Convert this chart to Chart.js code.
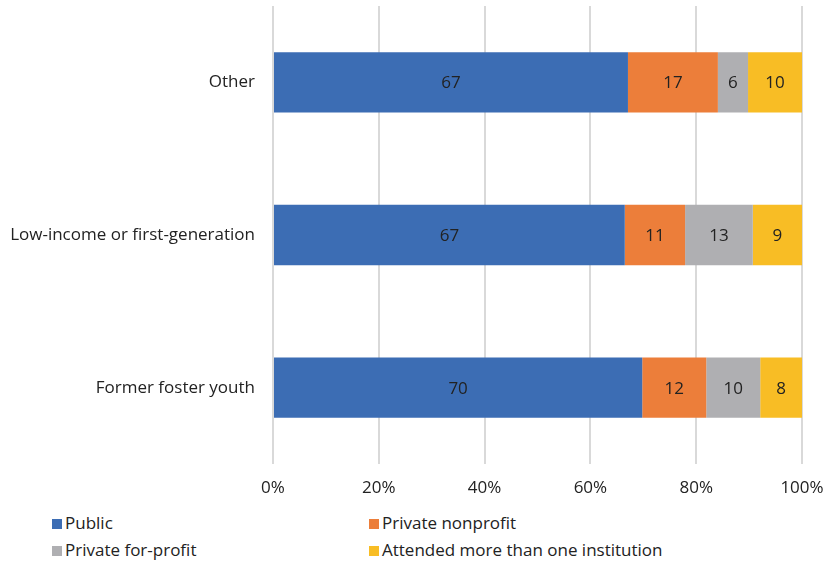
<!DOCTYPE html>
<html>
<head>
<meta charset="utf-8">
<script src="https://cdn.jsdelivr.net/npm/chart.js"></script>
<style>
  body { margin: 0; background: #fff; font-family: "Open Sans", sans-serif; }
  #wrap { position: relative; width: 828px; height: 563px; }
  #chartBox { position: absolute; left: 0; top: 0; width: 828px; height: 506px; }
  .legend { position: absolute; font-size: 17px; line-height: 20px; color: #222; white-space: nowrap; }
  .legend span.sw { display: inline-block; width: 10px; height: 10px; margin-right: 3px; vertical-align: 0px; }
</style>
</head>
<body>
<div id="wrap">
  <div id="chartBox"><canvas id="chart"></canvas></div>
  <div id="legend"></div>
</div>
<script>
// categories, top to bottom
const categories = ['Other', 'Low-income or first-generation', 'Former foster youth'];

// percent of students by institution type (labels show rounded values)
const publicVals = [67.1, 66.5, 69.8];
const nonprofitVals = [17.0, 11.4, 12.1];
const forprofitVals = [5.7, 12.8, 10.2];
const multipleVals = [10.2, 9.3, 7.9];

const seriesNames = ['Public', 'Private nonprofit', 'Private for-profit', 'Attended more than one institution'];
const seriesColors = ['#3c6db4', '#ec7e3a', '#afafb2', '#f8bd25'];

const xTicks = [0, 20, 40, 60, 80, 100];

const FONT = '"Open Sans", sans-serif';
const FSIZE = 17;

// draw value labels in the middle of every segment
const segmentLabels = {
    id: 'segmentLabels',
    afterDatasetsDraw(chart) {
        const { ctx } = chart;
        ctx.save();
        ctx.font = FSIZE + 'px ' + FONT;
        ctx.fillStyle = '#222';
        ctx.textAlign = 'center';
        ctx.textBaseline = 'middle';
        chart.data.datasets.forEach((ds, i) => {
            const meta = chart.getDatasetMeta(i);
            meta.data.forEach((bar, j) => {
                const cx = (bar.x + bar.base) / 2;
                ctx.fillText(Math.round(ds.data[j]), cx, bar.y + 1);
            });
        });
        ctx.restore();
    }
};

const allVals = [publicVals, nonprofitVals, forprofitVals, multipleVals];

new Chart(document.getElementById('chart').getContext('2d'), {
    type: 'bar',
    data: {
        labels: categories,
        datasets: allVals.map((vals, i) => ({
            label: seriesNames[i],
            data: vals,
            backgroundColor: seriesColors[i],
            borderWidth: 0,
            categoryPercentage: 1,
            barPercentage: 0.395
        }))
    },
    options: {
        indexAxis: 'y',
        responsive: true,
        maintainAspectRatio: false,
        animation: false,
        layout: { padding: { left: 0, right: 26, top: 6, bottom: 0 } },
        plugins: {
            legend: { display: false },
            tooltip: { enabled: false }
        },
        scales: {
            x: {
                stacked: true,
                min: 0,
                max: 100,
                afterBuildTicks: (axis) => { axis.ticks = xTicks.map(v => ({ value: v })); },
                afterFit: (axis) => { axis.height = 42; axis.paddingLeft = 0; axis.paddingRight = 0; },
                grid: { color: '#d9d9d9', lineWidth: 2, drawTicks: false },
                border: { display: false },
                ticks: {
                    color: '#222',
                    padding: 14,
                    font: { family: FONT, size: FSIZE },
                    callback: (v) => v + '%'
                }
            },
            y: {
                stacked: true,
                afterFit: (axis) => { axis.width = 273; axis.paddingTop = 0; axis.paddingBottom = 0; },
                grid: { display: false },
                border: { display: false },
                ticks: {
                    color: '#222',
                    padding: 10,
                    font: { family: FONT, size: FSIZE }
                }
            }
        }
    },
    plugins: [segmentLabels]
});

// two-column legend under the chart
const legendPos = [[52, 513], [369, 513], [52, 540], [369, 540]];
const legendEl = document.getElementById('legend');
seriesNames.forEach((name, i) => {
    const d = document.createElement('div');
    d.className = 'legend';
    d.style.left = legendPos[i][0] + 'px';
    d.style.top = legendPos[i][1] + 'px';
    d.innerHTML = '<span class="sw" style="background:' + seriesColors[i] + '"></span>' + name;
    legendEl.appendChild(d);
});
</script>
</body>
</html>
